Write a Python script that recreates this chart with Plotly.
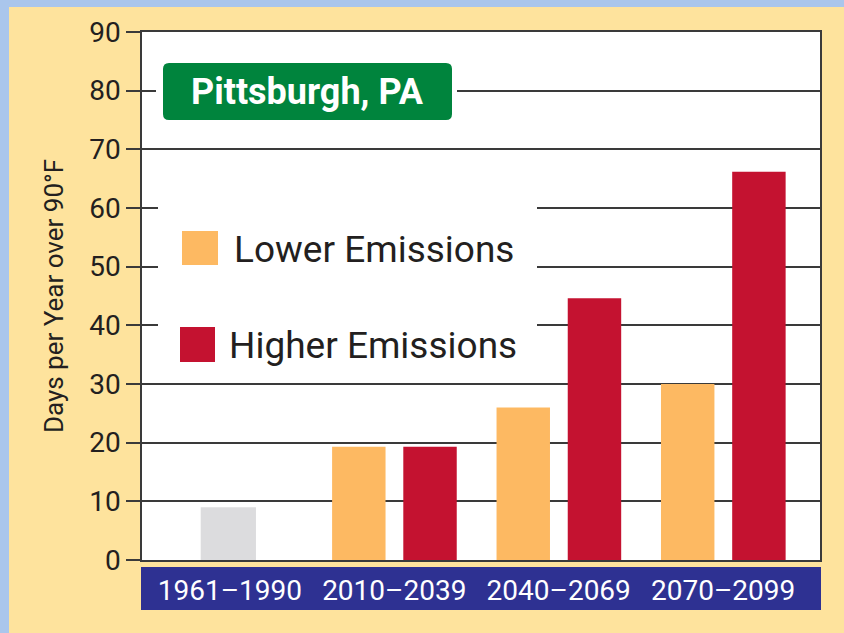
import plotly.graph_objects as go

# data
periods = ["1961–1990", "2010–2039", "2040–2069", "2070–2099"]
baseline = [9]                    # 1961–1990 observed
lower = [19.3, 26, 30]            # Lower Emissions, 2010 onwards
higher = [19.3, 44.6, 66.2]       # Higher Emissions, 2010 onwards

W, H = 844, 633
L, R, T, B = 142, 24, 32, 73
PW, PH = W - L - R, H - T - B

FONT = "Roboto, Liberation Sans, Arial, sans-serif"
INK = "#231f20"
LINE = "#3a3a3a"


def px(x):
    return (x - L) / PW


def py(y):
    return (H - B - y) / PH


def rect(x0, y0, x1, y1, color, layer="above"):
    return dict(type="rect", xref="paper", yref="paper",
                x0=px(x0), x1=px(x1), y0=py(y1), y1=py(y0),
                fillcolor=color, line=dict(width=0), layer=layer)


def rounded(x0, y0, x1, y1, r, color):
    a, b, c, d = px(x0), py(y1), px(x1), py(y0)
    rx, ry = r / PW, r / PH
    path = (f"M{a+rx},{b} L{c-rx},{b} Q{c},{b} {c},{b+ry} L{c},{d-ry} "
            f"Q{c},{d} {c-rx},{d} L{a+rx},{d} Q{a},{d} {a},{d-ry} "
            f"L{a},{b+ry} Q{a},{b} {a+rx},{b} Z")
    return dict(type="path", xref="paper", yref="paper", path=path,
                fillcolor=color, line=dict(width=0), layer="above")


fig = go.Figure()
fig.add_trace(go.Bar(x=periods[:1], y=baseline, width=0.336, offset=-0.177,
                     marker=dict(color="#dcdcde", line=dict(width=0)),
                     name="Observed"))
fig.add_trace(go.Bar(x=periods[1:], y=lower, width=0.325, offset=-0.378,
                     marker=dict(color="#fdb962", line=dict(width=0)),
                     name="Lower Emissions"))
fig.add_trace(go.Bar(x=periods[1:], y=higher, width=0.325, offset=0.055,
                     marker=dict(color="#c41230", line=dict(width=0)),
                     name="Higher Emissions"))

shapes = [
    # blue frame around the cream panel
    rect(0, 0, W, 7, "#aac6ec", "below"),
    rect(0, 0, 9, H, "#aac6ec", "below"),
    # navy band behind the period labels
    rect(141, 567, 821, 610, "#2e3192", "below"),
    # title box
    rect(156, 58, 457, 126, "white"),
    rounded(163, 63, 452, 120, 6, "#00843d"),
    # legend
    rect(158, 180, 537, 372, "white"),
    rect(182, 231, 218, 265, "#fdb962"),
    rect(180, 327, 215, 362, "#c41230"),
]

annotations = [
    dict(text="<b>Pittsburgh, PA</b>", xref="paper", yref="paper",
         x=px(307.5), y=py(92), xanchor="center", yanchor="middle",
         showarrow=False, font=dict(family=FONT, size=36, color="white")),
    dict(text="Lower Emissions", xref="paper", yref="paper",
         x=px(232), y=py(249), xanchor="left", yanchor="middle",
         showarrow=False, font=dict(family=FONT, size=37, color=INK)),
    dict(text="Higher Emissions", xref="paper", yref="paper",
         x=px(227), y=py(345), xanchor="left", yanchor="middle",
         showarrow=False, font=dict(family=FONT, size=37, color=INK)),
]

fig.update_layout(
    width=W, height=H,
    margin=dict(l=L, r=R, t=T, b=B, autoexpand=False),
    paper_bgcolor="#fee39d",
    plot_bgcolor="white",
    barmode="overlay",
    showlegend=False,
    shapes=shapes,
    annotations=annotations,
    font=dict(family=FONT, color=INK),
)
fig.update_xaxes(
    type="category", categoryorder="array", categoryarray=periods,
    range=[-0.534, 3.589], showgrid=False, zeroline=False,
    showline=True, mirror=True, linecolor=LINE, linewidth=1.5,
    ticks="", ticklabelstandoff=5,
    tickfont=dict(family=FONT, size=28, color="white"),
)
fig.update_yaxes(
    range=[0, 90], dtick=10, tick0=0,
    showgrid=True, gridcolor=LINE, gridwidth=1.5, zeroline=False,
    showline=True, mirror=True, linecolor=LINE, linewidth=1.5,
    ticks="outside", ticklen=14, tickwidth=1.5, tickcolor=LINE,
    tickfont=dict(family=FONT, size=28, color=INK),
    title=dict(text="Days per Year over 90°F", standoff=18,
               font=dict(family=FONT, size=26, color=INK)),
)

# the page margin would push the 844x633 figure off the window
fig.write_html("out.html",
               config={"displayModeBar": False},
               post_script="document.body.style.margin='0';"
                           "document.body.style.overflow='hidden';")
